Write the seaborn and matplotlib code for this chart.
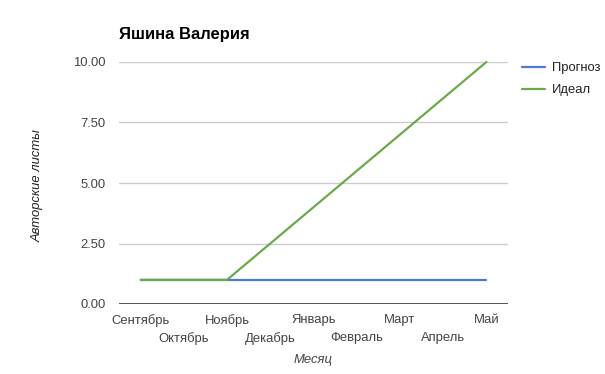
import matplotlib
matplotlib.use("Agg")
import matplotlib.pyplot as plt
import seaborn as sns
import pandas as pd
from matplotlib.lines import Line2D

months = ["Сентябрь", "Октябрь", "Ноябрь", "Декабрь", "Январь",
          "Февраль", "Март", "Апрель", "Май"]
forecast = [1, 1, 1, 1, 1, 1, 1, 1, 1]
ideal = [1, 1, 1, 2.5, 4, 5.5, 7, 8.5, 10]
y_ticks = [0, 2.5, 5, 7.5, 10]
series_names = ["Прогноз", "Идеал"]
colors = ["#4a7bd6", "#6aaa4b"]

sns.set_theme(style="white")
plt.rcParams['font.family'] = ['Liberation Sans', 'DejaVu Sans']

df = pd.DataFrame({
    "idx": list(range(len(months))) * 2,
    "value": forecast + ideal,
    "series": [series_names[0]] * len(months) + [series_names[1]] * len(months),
})

fig = plt.figure(figsize=(6.05, 3.74), dpi=100)
ax = fig.add_axes([119/605, 1-304/374, (508-119)/605, (304-62)/374])

sns.lineplot(data=df, x="idx", y="value", hue="series", hue_order=series_names,
             palette=colors, linewidth=1.6, ax=ax, legend=False, clip_on=False)

ax.set_xlim(-0.5, len(months) - 0.5)
ax.set_ylim(0, 10)
ax.set_yticks(y_ticks)
ax.set_yticklabels([f"{v:.2f}" for v in y_ticks])
ax.set_xticks(range(len(months)))
ax.set_xticklabels(months)
for s in ax.spines.values():
    s.set_visible(False)
ax.grid(axis="y", color="#cccccc", linewidth=1)
ax.grid(axis="x", visible=False)
ax.axhline(0, color="#333333", linewidth=1.2, zorder=1)
ax.tick_params(axis="both", length=0, labelsize=9.4, labelcolor="#444444")
ax.tick_params(axis="x", pad=7.5)
ax.tick_params(axis="y", pad=9.5)
for i, lab in enumerate(ax.get_xticklabels()):
    if i % 2 == 1:
        lab.set_y(-18/242)

ax.set_xlabel("")
ax.set_ylabel("")
fig.text(313/605, 1-360/374, "Месяц", fontsize=9.4, style="italic",
         color="#444444", ha="center", va="center")
fig.text(38/605, 1-186/374, "Авторские листы", fontsize=9.4, style="italic",
         color="#222222", ha="center", va="center", rotation=90)

fig.text(119/605, 1-34/374, "Яшина Валерия", fontsize=12, fontweight="bold",
         color="#000000", ha="left", va="center")

handles = [Line2D([], [], color=c, linewidth=1.6) for c in colors]
fig.legend(handles, series_names, loc="upper left", bbox_to_anchor=(522/605, 1-62/374),
           frameon=False, fontsize=9.4, handlelength=1.75, handletextpad=0.55,
           labelspacing=0.75, borderpad=0, borderaxespad=0, labelcolor="#222222")

fig.savefig("out.png", dpi=100)
